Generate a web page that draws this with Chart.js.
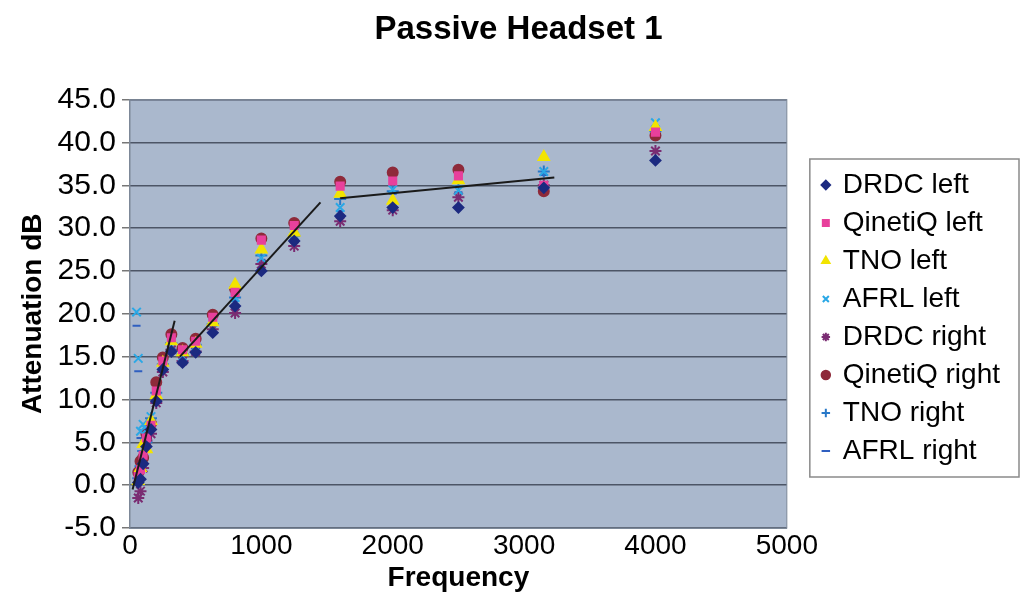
<!DOCTYPE html>
<html>
<head>
<meta charset="utf-8">
<script src="https://cdn.jsdelivr.net/npm/chart.js@4.4.1/dist/chart.umd.min.js"></script>
<style>
  html, body { margin: 0; padding: 0; background: #fff; }
  #wrap { width: 1021px; height: 592px; }
</style>
</head>
<body>
<div id="wrap"><canvas id="myChart"></canvas></div>
<script>
// 1/3 octave band centre frequencies (Hz)
const freqs = [50, 63, 80, 100, 125, 160, 200, 250, 315, 400, 500, 630, 800, 1000, 1250, 1600, 2000, 2500, 3150, 4000];

// attenuation (dB) per series, null = not measured
const drdcLeft     = [null, 0.3, 0.7, 2.5, 4.5, 6.5, 9.8, 13.5, 15.6, 14.3, 15.5, 17.8, 20.9, 25.0, 28.5, 31.4, 32.4, 32.4, 34.7, 37.9];
const qinetiqLeft  = [null, 1.0, 1.8, 3.5, 5.5, 7.0, 11.0, 14.5, 17.2, 15.8, 16.8, 19.6, 22.5, 28.6, 30.3, 34.9, 35.5, 36.1, 35.0, 41.2];
const tnoLeft      = [null, 0.5, 2.0, 4.8, 4.2, 7.5, 10.5, 14.3, 16.8, 15.5, 16.5, 19.0, 23.4, 27.5, 29.5, 34.0, 33.2, 35.6, 38.3, 41.8];
const afrlLeft     = [20.2, 14.8, 6.3, 7.1, 6.5, 8.0, 10.2, 14.0, 16.2, 15.0, 16.2, 19.0, 21.9, 26.5, 29.1, 32.4, 34.5, 34.4, 36.6, 42.3];
const drdcRight    = [null, -1.5, -0.7, 2.0, 5.2, 6.0, 9.6, 13.2, 15.8, 14.5, 15.6, 18.2, 20.1, 25.8, 27.9, 30.8, 32.1, 33.6, 35.0, 39.0];
const qinetiqRight = [null, 1.5, 2.8, 3.2, 6.0, 7.2, 12.0, 14.9, 17.6, 16.0, 17.1, 19.9, 22.9, 28.8, 30.6, 35.4, 36.5, 36.8, 34.3, 40.8];
const tnoRight     = [null, 0.8, 2.2, 4.0, 5.0, 7.8, 10.8, 14.1, 16.6, 15.3, 16.4, 18.8, 21.9, 26.8, 29.1, 33.4, 34.3, 34.9, 36.6, 41.3];
const afrlRight    = [18.6, 13.3, 5.5, 6.4, 6.0, 7.5, 10.0, 13.8, 16.0, 14.8, 16.0, 18.6, 21.5, 26.3, 28.8, 32.0, 34.0, 34.2, 36.2, 41.6];

// hand-drawn trend segments [freq, dB]
const trendLow  = [[20, -0.5], [340, 19.2]];
const trendMid  = [[380, 15.0], [1450, 33.0]];
const trendHigh = [[1600, 33.5], [3230, 35.9]];

const yTicks = [-5, 0, 5, 10, 15, 20, 25, 30, 35, 40, 45];

const toPoints = (vals) =>
  freqs.map((f, i) => ({ x: f, y: vals[i] })).filter((p) => p.y !== null);

const series = [
  { label: "DRDC left",     vals: drdcLeft,     style: "rectRot",  color: "#1c2a80", r: 5 },
  { label: "QinetiQ left",  vals: qinetiqLeft,  style: "rect",     color: "#e8409c", r: 5 },
  { label: "TNO left",      vals: tnoLeft,      style: "triangle", color: "#f2e400", r: 6 },
  { label: "AFRL left",     vals: afrlLeft,     style: "crossRot", color: "#2aa8e6", r: 6 },
  { label: "DRDC right",    vals: drdcRight,    style: "star",     color: "#7a2c72", r: 6 },
  { label: "QinetiQ right", vals: qinetiqRight, style: "circle",   color: "#8e2a3a", r: 5 },
  { label: "TNO right",     vals: tnoRight,     style: "cross",    color: "#2878c8", r: 6 },
  { label: "AFRL right",    vals: afrlRight,    style: "line",     color: "#2f5fc0", r: 4 },
];

const datasets = series.map((s) => ({
  label: s.label,
  data: toPoints(s.vals),
  pointStyle: s.style,
  pointRadius: s.r,
  backgroundColor: s.color,
  borderColor: s.color,
  borderWidth: 2,
  showLine: false,
}));

[trendLow, trendMid, trendHigh].forEach((seg) => {
  datasets.push({
    label: "trend",
    data: seg.map((p) => ({ x: p[0], y: p[1] })),
    showLine: true,
    pointRadius: 0,
    borderColor: "#1a1a1a",
    borderWidth: 2,
    order: -1,
  });
});

const LEGEND_EXTRA = 37; // extra width given to the legend
const LEGEND_SHIFT = 26; // legend entries pushed right by this much

// grey-blue plot area plus frame
const plotArea = {
  id: "plotArea",
  beforeDraw(chart) {
    const { ctx, chartArea: a } = chart;
    ctx.save();
    ctx.fillStyle = "#aab8cd";
    ctx.fillRect(a.left, a.top, a.right - a.left, a.bottom - a.top);
    ctx.restore();
  },
  afterDatasetsDraw(chart) {
    const { ctx, chartArea: a } = chart;
    ctx.save();
    ctx.strokeStyle = "#7d8898";
    ctx.lineWidth = 1;
    ctx.strokeRect(a.left, a.top, a.right - a.left, a.bottom - a.top);
    ctx.restore();
  },
};

// widen the legend on its left side and frame it
const legendBox = {
  id: "legendBox",
  beforeLayout(chart) {
    const lg = chart.legend;
    if (!lg || lg._gapPatched) return;
    const fit = lg.fit.bind(lg);
    lg.fit = function () { fit(); this.width += LEGEND_EXTRA; };
    const draw = lg.draw.bind(lg);
    lg.draw = function () { this.left += LEGEND_SHIFT; draw(); this.left -= LEGEND_SHIFT; };
    lg._gapPatched = true;
  },
  afterDraw(chart) {
    const l = chart.legend;
    if (!l || !l.legendHitBoxes.length) return;
    const boxes = l.legendHitBoxes;
    const top = boxes[0].top - 12;
    const bottom = boxes[boxes.length - 1].top + boxes[boxes.length - 1].height + 12;
    const x = l.left + 23;
    const { ctx } = chart;
    ctx.save();
    ctx.strokeStyle = "#8a8a8a";
    ctx.lineWidth = 1.5;
    ctx.strokeRect(x, top, chart.width - x - 2, bottom - top);
    ctx.restore();
  },
};

const font = "'Liberation Sans', Arial, sans-serif";

new Chart(document.getElementById("myChart"), {
  type: "scatter",
  data: { datasets },
  plugins: [plotArea, legendBox],
  options: {
    responsive: true,
    maintainAspectRatio: false,
    animation: false,
    layout: { padding: { left: 16, right: 0, top: 6, bottom: 0 } },
    plugins: {
      tooltip: { enabled: false },
      title: {
        display: true,
        text: "Passive Headset 1",
        color: "#000",
        font: { family: font, size: 33, weight: "bold" },
        padding: { top: 4, bottom: 50 },
      },
      legend: {
        position: "right",
        title: { display: true, text: "", font: { size: 10 }, padding: { top: 26, bottom: 0 } },
        labels: {
          filter: (item) => item.text !== "trend",
          usePointStyle: true,
          boxWidth: 6,
          boxHeight: 6,
          padding: 10,
          color: "#000",
          font: { family: font, size: 28 },
        },
      },
    },
    scales: {
      x: {
        type: "linear",
        min: 0,
        max: 5000,
        ticks: {
          stepSize: 1000,
          color: "#000",
          font: { family: font, size: 28, lineHeight: 1 },
          maxRotation: 0,
          padding: 4,
          callback: (v) => String(v),
        },
        grid: { display: false, drawTicks: false },
        border: { display: true, color: "#7d8898" },
        title: {
          display: true,
          text: "Frequency",
          color: "#000",
          font: { family: font, size: 28, weight: "bold", lineHeight: 1 },
          padding: { top: 0, bottom: 0 },
        },
      },
      y: {
        type: "linear",
        min: -5,
        max: 45,
        afterBuildTicks: (axis) => { axis.ticks = yTicks.map((v) => ({ value: v })); },
        ticks: { color: "#000", font: { family: font, size: 30 }, callback: (v) => v.toFixed(1), padding: 6 },
        grid: {
          color: "#4c5566",
          lineWidth: 1.5,
          tickLength: 8,
          tickColor: "#777",
        },
        border: { display: true, color: "#7d8898" },
        title: {
          display: true,
          text: "Attenuation dB",
          color: "#000",
          font: { family: font, size: 28, weight: "bold" },
          padding: { top: 0, bottom: 2 },
        },
      },
    },
  },
});
</script>
</body>
</html>
